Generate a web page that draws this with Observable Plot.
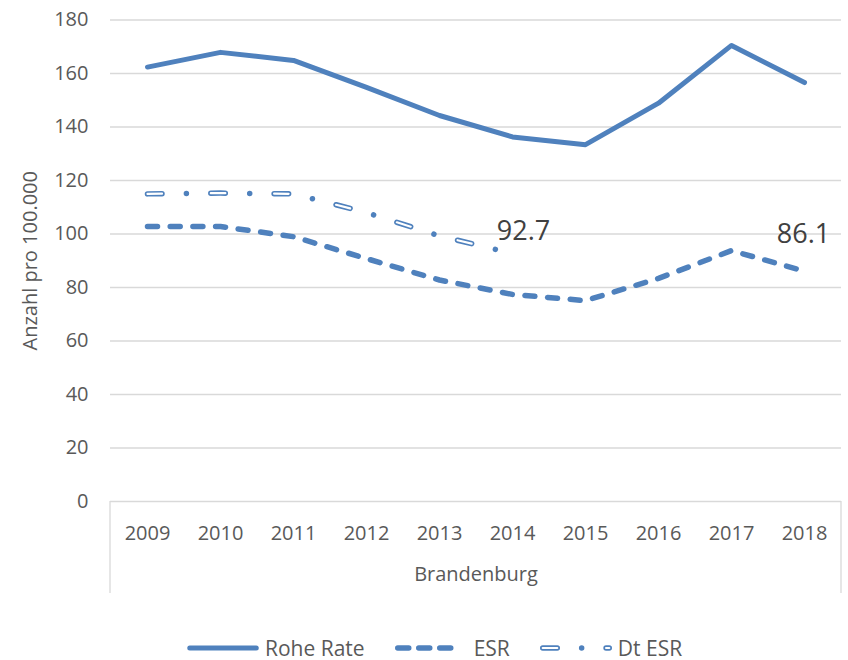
<!DOCTYPE html>
<html>
<head>
<meta charset="utf-8">
<script src="https://cdn.jsdelivr.net/npm/d3@7"></script>
<script src="https://cdn.jsdelivr.net/npm/@observablehq/plot@0.6"></script>
<style>
  html, body { margin: 0; padding: 0; background: #fff; }
  #chart { width: 848px; height: 625px; }
  .legend { display: flex; align-items: center; height: 22px; margin-top: 12px; padding-left: 187px;
    font-family: 'Open Sans', sans-serif; font-size: 21px; line-height: 21px; color: #595959; }
  .legend .item { display: flex; align-items: center; margin-right: 30px; }
  .legend span { line-height: 21px; }
</style>
</head>
<body>
<div id="chart"></div>
<script>
const years = ["2009", "2010", "2011", "2012", "2013", "2014", "2015", "2016", "2017", "2018"];
const roheRate = [162.4, 167.9, 164.9, 154.8, 144.3, 136.3, 133.4, 148.9, 170.5, 156.6];
const esr = [102.8, 102.8, 99.0, 90.8, 82.8, 77.4, 75.1, 83.4, 93.8, 86.1];
const dtEsrYears = ["2009", "2010", "2011", "2012", "2013", "2014"];
const dtEsr = [115.0, 115.3, 115.0, 108.0, 99.3, 92.7];
const yTicks = [0, 20, 40, 60, 80, 100, 120, 140, 160, 180];
const seriesNames = ["Rohe Rate", "ESR", "Dt ESR"];
const region = "Brandenburg";
const yTitle = "Anzahl pro 100.000";
const dtLabel = [{year: "2014", value: 92.7}];
const esrLabel = [{year: "2018", value: 86.1}];

const blue = "#4f81bd";
const roheData = years.map((year, i) => ({year, value: roheRate[i]}));
const esrData = years.map((year, i) => ({year, value: esr[i]}));
const dtData = dtEsrYears.map((year, i) => ({year, value: dtEsr[i]}));

const dtOuterDash = "14.5 24.4 0.01 24.4";
const dtInnerDash = "14.5 48.81";
const esrDash = "10 12.7";

const plot = Plot.plot({
  width: 848,
  height: 625,
  marginTop: 19.5,
  marginBottom: 124,
  marginLeft: 110,
  marginRight: 7,
  style: {fontFamily: "'Open Sans', sans-serif", fontSize: "20px", color: "#595959", background: "white", overflow: "visible"},
  x: {type: "point", domain: years, padding: 0.5},
  y: {domain: [0, 180]},
  marks: [
    Plot.gridY(yTicks, {stroke: "#d9d9d9", strokeOpacity: 1, strokeWidth: 1.3}),
    Plot.axisY(yTicks, {tickSize: 0, tickPadding: 22, label: null}),
    Plot.axisX({tickSize: 0, tickPadding: 24, label: null}),
    Plot.text([yTitle], {frameAnchor: "left", textAnchor: "middle", dx: -80, rotate: -90, fontSize: 20, fill: "#595959"}),
    Plot.text([region], {frameAnchor: "bottom", dy: 79, fontSize: 20, fill: "#595959"}),
    Plot.line(roheData, {x: "year", y: "value", stroke: blue, strokeWidth: 5, curve: "linear", strokeLinecap: "round", strokeLinejoin: "round"}),
    Plot.line(esrData, {x: "year", y: "value", stroke: blue, strokeWidth: 5.5, curve: "linear", strokeLinecap: "round", strokeLinejoin: "round", strokeDasharray: esrDash}),
    Plot.line(dtData, {x: "year", y: "value", stroke: blue, strokeWidth: 5.5, curve: "linear", strokeLinecap: "round", strokeLinejoin: "round", strokeDasharray: dtOuterDash}),
    Plot.line(dtData, {x: "year", y: "value", stroke: "white", strokeWidth: 2.2, curve: "linear", strokeLinecap: "round", strokeLinejoin: "round", strokeDasharray: dtInnerDash}),
    Plot.text(dtLabel, {x: "year", y: "value", text: d => d.value.toFixed(1), dx: 11, dy: -22, fontSize: 27, fill: "#404040"}),
    Plot.text(esrLabel, {x: "year", y: "value", text: d => d.value.toFixed(1), dx: -1, dy: -37, fontSize: 27, fill: "#404040"})
  ]
});

// category box lines (Excel multi-level category axis frame)
const xs = plot.scale("x").range;
const y0 = plot.scale("y").apply(0);
const g = d3.select(plot).append("g").attr("stroke", "#d9d9d9").attr("stroke-width", 1.3);
[xs[0], xs[1]].forEach(x => {
  g.append("line").attr("x1", x).attr("x2", x).attr("y1", y0).attr("y2", y0 + 92);
});

document.getElementById("chart").appendChild(plot);

// legend
const legend = document.createElement("div");
legend.className = "legend";
const styles = [
  {w: 72, gap: 6, layers: [{stroke: blue, width: 5, dash: null}]},
  {w: 62, gap: 17, layers: [{stroke: blue, width: 5.5, dash: "11 10"}]},
  {w: 72, gap: 6, layers: [{stroke: blue, width: 5.5, dash: dtOuterDash}, {stroke: "white", width: 2.2, dash: dtInnerDash}]}
];
seriesNames.forEach((name, i) => {
  const item = document.createElement("div");
  item.className = "item";
  const s = styles[i];
  const svg = d3.create("svg").attr("width", s.w).attr("height", 14).style("margin-right", s.gap + "px");
  s.layers.forEach(l => {
    const line = svg.append("line").attr("x1", 2.75).attr("x2", s.w - 2.75).attr("y1", 7).attr("y2", 7)
      .attr("stroke", l.stroke).attr("stroke-width", l.width).attr("stroke-linecap", "round");
    if (l.dash) line.attr("stroke-dasharray", l.dash);
  });
  item.appendChild(svg.node());
  const span = document.createElement("span");
  span.textContent = name;
  item.appendChild(span);
  legend.appendChild(item);
});
document.body.appendChild(legend);
</script>
</body>
</html>
